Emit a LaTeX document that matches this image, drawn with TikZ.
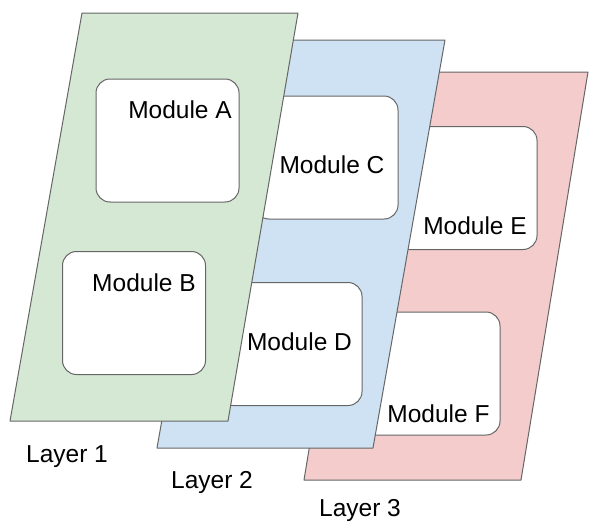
\documentclass[tikz,border=0pt]{standalone}
\usepackage{fontspec}
\setmainfont{Liberation Sans}
\definecolor{lgreen}{HTML}{D5E8D4}
\definecolor{lblue}{HTML}{CFE2F3}
\definecolor{lred}{HTML}{F4CCCC}
\definecolor{edge}{HTML}{666666}
\begin{document}
\begin{tikzpicture}[x=1pt,y=-1pt,line join=round,
  layer/.style={draw=edge,line width=1pt},
  module/.style={draw=edge,line width=1pt,fill=white,rounded corners=14pt,
    minimum width=143pt,minimum height=123pt,inner sep=0pt},
  lbl/.style={font=\fontsize{24.5}{28}\selectfont,inner sep=0pt,anchor=base}]
\useasboundingbox (0,0) rectangle (589,522);
% Layer 3
\draw[layer,fill=lred] (371,72) -- (588,72) -- (521,480) -- (304,480) -- cycle;
\node[module] (E) at (465.5,188) {};
\node[module] (F) at (428.5,373.5) {};
\node[lbl] (tE) at (475,234) {Module E};
\node[lbl] (tF) at (438.5,422) {Module F};
% Layer 2
\draw[layer,fill=lblue] (229,40) -- (445,40) -- (373,448) -- (157,448) -- cycle;
\node[module] (C) at (326.5,157.5) {};
\node[module] (D) at (290.5,344) {};
\node[lbl] (tC) at (332,173) {Module C};
\node[lbl] (tD) at (299.5,350) {Module D};
% Layer 1
\draw[layer,fill=lgreen] (82,13) -- (298,13) -- (228,421) -- (10,421) -- cycle;
\node[module] (A) at (167.5,140.5) {};
\node[module] (B) at (134,313) {};
\node[lbl] (tA) at (180,118) {Module A};
\node[lbl] (tB) at (144,291) {Module B};
% layer labels
\node[lbl] (L1) at (67,462) {Layer 1};
\node[lbl] (L2) at (212,488) {Layer 2};
\node[lbl] (L3) at (360,516.5) {Layer 3};
\end{tikzpicture}
\end{document}
